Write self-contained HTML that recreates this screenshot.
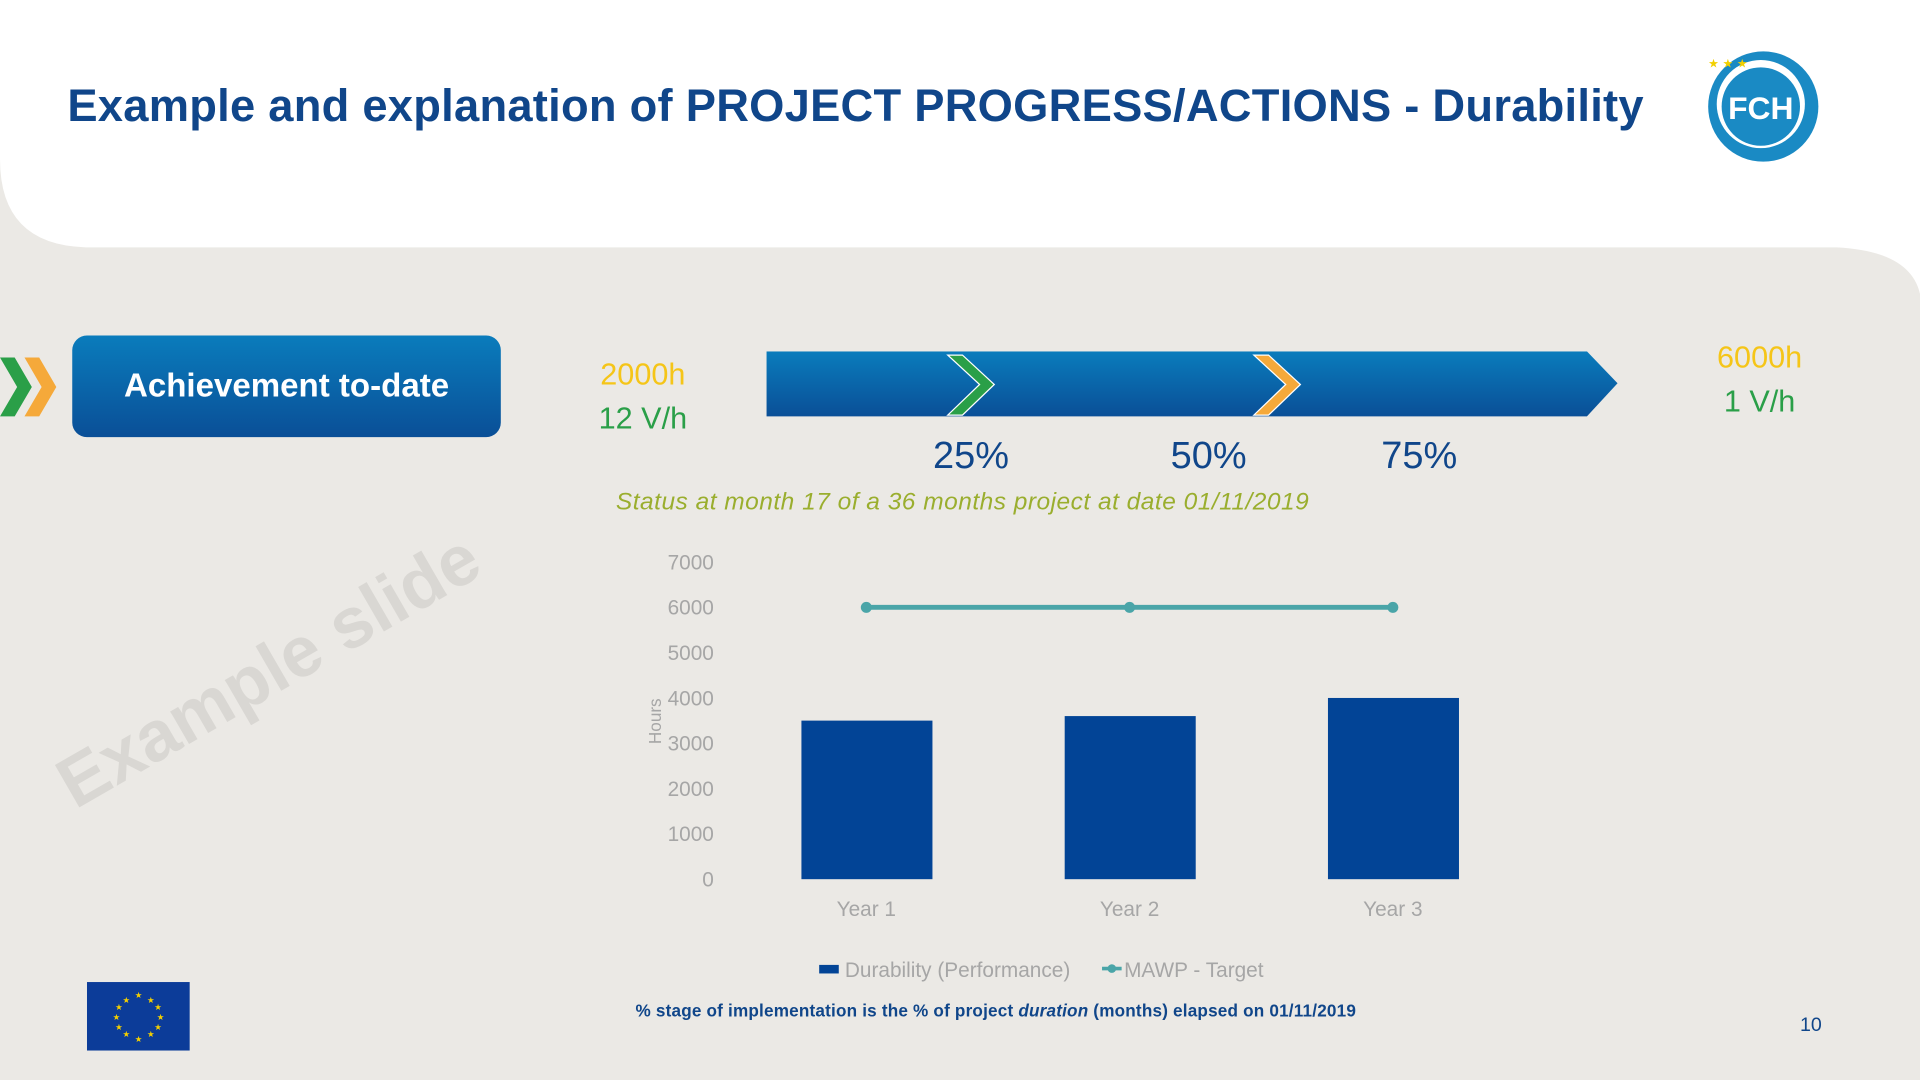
<!DOCTYPE html>
<html><head><meta charset="utf-8">
<style>
html,body{margin:0;padding:0;width:1920px;height:1080px;overflow:hidden;background:#fff}
#s{position:absolute;left:0;top:0;width:1568px;height:882px;transform:scale(1.22449);transform-origin:0 0;font-family:"Liberation Sans",sans-serif;overflow:hidden;background:#fff}
.a{position:absolute}
</style></head><body>
<div id="s">
<svg class="a" style="left:0;top:0" width="1568" height="882">
<path d="M0 130 Q0 200 70 202 L1500 202 Q1560 205 1568 240 L1568 882 L0 882 Z" fill="#ebe9e5"/>
</svg>
<div class="a" style="left:55px;top:66px;font-size:37px;font-weight:bold;color:#10468a;letter-spacing:0.2px">Example and explanation of PROJECT PROGRESS/ACTIONS - Durability</div>
<svg class="a" style="left:1375px;top:25px" width="130" height="125">
<circle cx="65" cy="62" r="45" fill="#1a8ac4"/><circle cx="63" cy="60" r="36" fill="#fff"/><circle cx="63" cy="62" r="32" fill="#1a8ac4"/>
<text x="63" y="72" text-anchor="middle" font-size="26" font-weight="bold" fill="#fff" font-family="Liberation Sans">FCH</text>
<text x="20" y="30" font-size="10" fill="#f2d000">★ ★ ★</text>
</svg>
<svg class="a" style="left:0;top:290px" width="60" height="52">
<polygon points="0,2 12,2 26,26 12,50 0,50 14,26" fill="#2a9f48"/>
<polygon points="20,2 32,2 46,26 32,50 20,50 34,26" fill="#f5a93a"/>
</svg>
<div class="a" style="left:59px;top:274px;width:350px;height:83px;border-radius:12px;background:linear-gradient(#0a7cbc,#0a4f97);color:#fff;font-size:27px;font-weight:bold;line-height:83px;text-align:center">Achievement to-date</div>
<div class="a" style="left:470px;top:288px;width:110px;text-align:center;font-size:25px;line-height:36px"><span style="color:#f5c518">2000h</span><br><span style="color:#2a9f48">12 V/h</span></div>
<div class="a" style="left:1382px;top:274px;width:110px;text-align:center;font-size:25px;line-height:36px"><span style="color:#f5c518">6000h</span><br><span style="color:#2a9f48">1 V/h</span></div>
<svg class="a" style="left:626px;top:287px" width="700" height="55">
<defs><linearGradient id="g" x1="0" y1="0" x2="0" y2="1"><stop offset="0" stop-color="#0a7cbc"/><stop offset="1" stop-color="#0a4f97"/></linearGradient></defs>
<polygon points="0,0 670,0 695,26 670,53 0,53" fill="url(#g)"/>
<polygon points="148,3 160,3 186,27 160,52 148,52 174,27" fill="#2a9f48" stroke="#fff" stroke-width="1"/>
<polygon points="398,3 410,3 436,27 410,52 398,52 424,27" fill="#f5a93a" stroke="#fff" stroke-width="1"/>
</svg>
<div class="a" style="left:762px;top:354px;font-size:31px;color:#10468a">25%</div>
<div class="a" style="left:956px;top:354px;font-size:31px;color:#10468a">50%</div>
<div class="a" style="left:1128px;top:354px;font-size:31px;color:#10468a">75%</div>
<div class="a" style="left:503px;top:399px;font-size:20px;font-style:italic;color:#9aae2e;letter-spacing:0.4px">Status at month 17 of a 36 months project at date 01/11/2019</div>
<div class="a" style="left:70px;top:604px;height:72px;line-height:72px;font-size:58px;font-weight:bold;color:#d9d7d3;transform:rotate(-30deg);transform-origin:left bottom;white-space:nowrap">Example slide</div>
<svg class="a" id="chart" style="left:0;top:0" width="1568" height="882"></svg>
<svg class="a" style="left:71px;top:802px" width="84" height="56">
<rect width="84" height="56" fill="#0c3c99"/>
<g fill="#f5d000" font-size="7"><text x="39" y="13">★</text><text x="39" y="49">★</text><text x="21" y="31">★</text><text x="57" y="31">★</text><text x="29" y="17">★</text><text x="49" y="17">★</text><text x="29" y="45">★</text><text x="49" y="45">★</text><text x="23" y="23">★</text><text x="55" y="23">★</text><text x="23" y="39">★</text><text x="55" y="39">★</text></g>
</svg>
<div class="a" style="left:519px;top:817px;font-size:14px;font-weight:bold;color:#10468a;letter-spacing:0.15px">% stage of implementation is the % of project <i>duration</i> (months) elapsed on 01/11/2019</div>
<div class="a" style="left:1470px;top:829px;font-size:16px;color:#10468a">10</div>
</div>
<script>
const categories=["Year 1","Year 2","Year 3"];
const durability=[3500,3600,4000];
const target=[6000,6000,6000];
const yTicks=[0,1000,2000,3000,4000,5000,6000,7000];
const NS="http://www.w3.org/2000/svg";
const svg=document.getElementById('chart');
const y0=718,yTop=459,yMax=7000,x0=600,step=215;
const yS=v=>y0-(v/yMax)*(y0-yTop);
const xS=i=>x0+step*(i+0.5);
function mk(t,a){const e=document.createElementNS(NS,t);for(const k in a)e.setAttribute(k,a[k]);svg.appendChild(e);return e;}
yTicks.forEach(v=>{const t=mk('text',{x:583,y:yS(v)+6,'text-anchor':'end','font-size':17,fill:'#a6a6a6','font-family':'Liberation Sans'});t.textContent=v;

});
const yt=mk('text',{x:540,y:589,'text-anchor':'middle','font-size':14,fill:'#a6a6a6',transform:'rotate(-90 540 589)','font-family':'Liberation Sans'});yt.textContent='Hours';


categories.forEach((c,i)=>{
const b=mk('rect',{x:xS(i)-53,y:yS(durability[i]),width:107,height:y0-yS(durability[i]),fill:'#024496'});


const t=mk('text',{x:xS(i),y:748,'text-anchor':'middle','font-size':17,fill:'#a6a6a6','font-family':'Liberation Sans'});t.textContent=c;


});
const pl=mk('polyline',{points:target.map((v,i)=>xS(i)+','+yS(v)).join(' '),fill:'none',stroke:'#4aa5a8','stroke-width':4});


target.forEach((v,i)=>{const p=mk('circle',{cx:xS(i),cy:yS(v),r:4.5,fill:'#4aa5a8'});

});
const l1=mk('rect',{x:669,y:788,width:16,height:7,fill:'#024496'});


const lt1=mk('text',{x:690,y:798,'font-size':17,fill:'#a6a6a6','font-family':'Liberation Sans'});lt1.textContent='Durability (Performance)';


const l2=mk('line',{x1:900,y1:791,x2:916,y2:791,stroke:'#4aa5a8','stroke-width':3});


const l2c=mk('circle',{cx:908,cy:791,r:3.5,fill:'#4aa5a8'});


const lt2=mk('text',{x:918,y:798,'font-size':17,fill:'#a6a6a6','font-family':'Liberation Sans'});lt2.textContent='MAWP - Target';


</script>
</body></html>
